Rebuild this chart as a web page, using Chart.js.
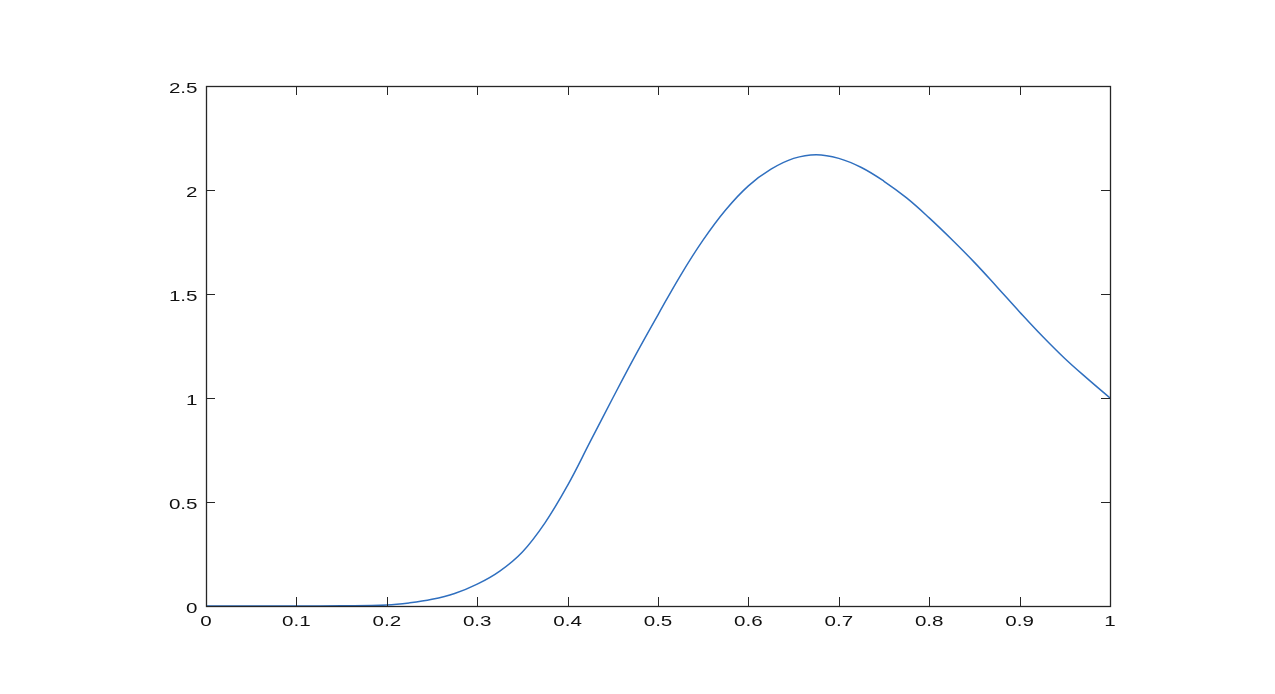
<!DOCTYPE html>
<html>
<head>
<meta charset="utf-8">
<script src="https://cdn.jsdelivr.net/npm/chart.js@4"></script>
<style>
  html, body { margin: 0; padding: 0; background: #fff; }
  #wrap { width: 1275px; height: 694px; }
</style>
</head>
<body>
<div id="wrap"><canvas id="plot" width="1275" height="694"></canvas></div>
<script>
// curve samples
const xValues = [0, 0.05, 0.1, 0.15, 0.2, 0.225, 0.25, 0.275, 0.3, 0.325, 0.35, 0.375,
  0.4, 0.425, 0.45, 0.475, 0.5, 0.525, 0.55, 0.575, 0.6, 0.625, 0.65, 0.675,
  0.7, 0.725, 0.75, 0.775, 0.8, 0.825, 0.85, 0.875, 0.9, 0.925, 0.95, 0.975, 1];
const yValues = [0, 0, 0, 0.001, 0.005, 0.015, 0.032, 0.06, 0.105, 0.168, 0.26, 0.4,
  0.58, 0.79, 1.0, 1.205, 1.4, 1.59, 1.76, 1.905, 2.02, 2.1, 2.152, 2.17,
  2.152, 2.108, 2.042, 1.962, 1.866, 1.762, 1.652, 1.534, 1.414, 1.298, 1.19, 1.093, 1.0];
const xTicks = [0, 0.1, 0.2, 0.3, 0.4, 0.5, 0.6, 0.7, 0.8, 0.9, 1];
const yTicks = [0, 0.5, 1, 1.5, 2, 2.5];

const axisColor = '#262626';
const labelColor = '#111111';
const tickLen = 9;
const labelFont = '14.5px "Liberation Sans", Arial, sans-serif';
const stretch = 1.42; // labels in the reference are drawn wide

function wideText(ctx, txt, x, y, align) {
  const w = ctx.measureText(txt).width * stretch;
  let left = x;
  if (align === 'right') left = x - w;
  if (align === 'center') left = x - w / 2;
  ctx.save();
  ctx.translate(left, y);
  ctx.scale(stretch, 1);
  ctx.fillText(txt, 0, 0);
  ctx.restore();
}

// MATLAB style box with inward ticks on all four sides
const boxTicks = {
  id: 'boxTicks',
  afterDraw(chart) {
    const { ctx, chartArea: a, scales: { x, y } } = chart;
    ctx.save();
    ctx.strokeStyle = axisColor;
    ctx.lineWidth = 1;
    ctx.beginPath();
    xTicks.forEach(v => {
      const px = Math.round(x.getPixelForValue(v)) + 0.5;
      ctx.moveTo(px, a.bottom); ctx.lineTo(px, a.bottom - tickLen);
      ctx.moveTo(px, a.top); ctx.lineTo(px, a.top + tickLen);
    });
    yTicks.forEach(v => {
      const py = Math.round(y.getPixelForValue(v)) + 0.5;
      ctx.moveTo(a.left, py); ctx.lineTo(a.left + tickLen, py);
      ctx.moveTo(a.right, py); ctx.lineTo(a.right - tickLen, py);
    });
    ctx.stroke();
    ctx.lineWidth = 1.3;
    ctx.strokeRect(Math.round(a.left) + 0.5, Math.round(a.top) + 0.5,
      Math.round(a.right - a.left), Math.round(a.bottom - a.top));

    // tick labels
    ctx.fillStyle = labelColor;
    ctx.font = labelFont;
    ctx.textBaseline = 'alphabetic';
    ctx.textAlign = 'left';
    xTicks.forEach(v => {
      wideText(ctx, String(v), x.getPixelForValue(v), a.bottom + 20, 'center');
    });
    yTicks.forEach(v => {
      wideText(ctx, String(v), a.left - 8.5, y.getPixelForValue(v) + 6.5, 'right');
    });
    ctx.restore();
  }
};

new Chart(document.getElementById('plot'), {
  type: 'line',
  data: {
    datasets: [{
      data: xValues.map((v, i) => ({ x: v, y: yValues[i] })),
      borderColor: '#2f6fbf',
      borderWidth: 1.5,
      pointRadius: 0,
      fill: false,
      tension: 0.4
    }]
  },
  options: {
    responsive: false,
    animation: false,
    layout: { padding: { left: 0, top: 86, right: 165, bottom: 0 } },
    plugins: { legend: { display: false }, tooltip: { enabled: false } },
    scales: {
      x: {
        type: 'linear', min: 0, max: 1,
        afterFit: s => { s.height = 88; },
        grid: { display: false, drawTicks: false },
        border: { display: false },
        ticks: { display: false }
      },
      y: {
        type: 'linear', min: 0, max: 2.5,
        afterFit: s => { s.width = 206; },
        grid: { display: false, drawTicks: false },
        border: { display: false },
        ticks: { display: false }
      }
    }
  },
  plugins: [boxTicks]
});
</script>
</body>
</html>
